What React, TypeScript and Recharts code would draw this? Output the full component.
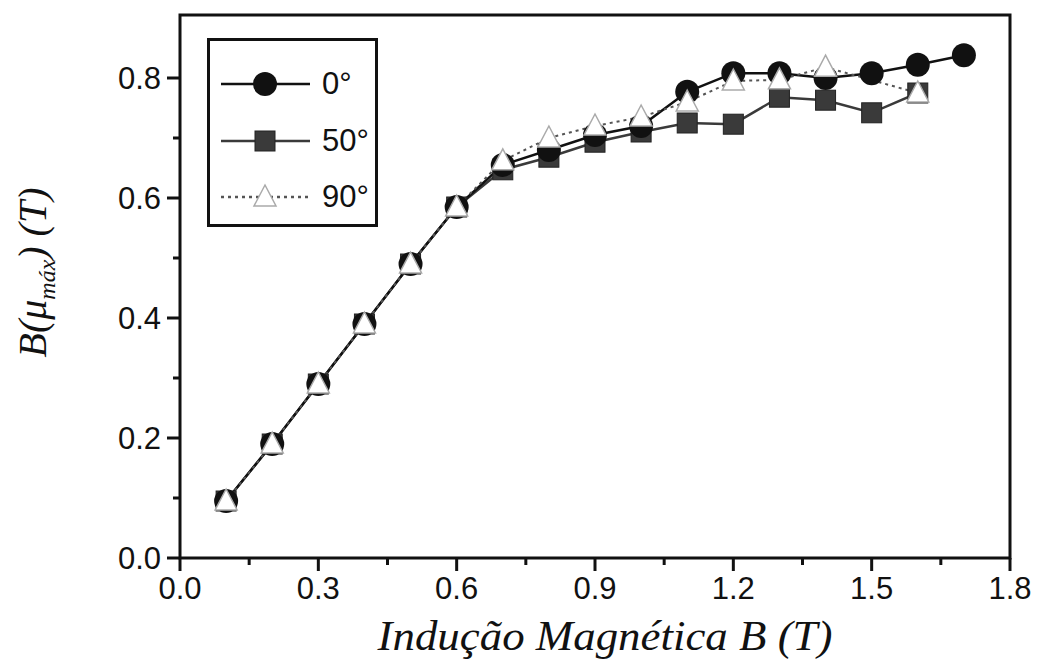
import { LineChart, Line, XAxis, YAxis, ReferenceArea, Legend } from 'recharts'

// ── data ────────────────────────────────────────────────────────────────────
const B_FIELD = [0.1, 0.2, 0.3, 0.4, 0.5, 0.6, 0.7, 0.8, 0.9, 1.0, 1.1, 1.2, 1.3, 1.4, 1.5, 1.6, 1.7]
const ANGLE_0 = [0.095, 0.19, 0.29, 0.39, 0.49, 0.585, 0.655, 0.68, 0.705, 0.72, 0.777, 0.808, 0.808, 0.8, 0.808, 0.822, 0.838]
const ANGLE_50 = [0.095, 0.19, 0.29, 0.39, 0.49, 0.585, 0.647, 0.668, 0.693, 0.71, 0.725, 0.723, 0.768, 0.763, 0.742, 0.775, null]
const ANGLE_90 = [0.095, 0.19, 0.29, 0.39, 0.49, 0.585, 0.662, 0.7, 0.72, 0.735, 0.76, 0.795, 0.797, 0.818, null, 0.775, null]

const X_TICKS = [0, 0.15, 0.3, 0.45, 0.6, 0.75, 0.9, 1.05, 1.2, 1.35, 1.5, 1.65, 1.8]
const X_LABELS = ['0.0', '0.3', '0.6', '0.9', '1.2', '1.5', '1.8']
const Y_TICKS = [0, 0.1, 0.2, 0.3, 0.4, 0.5, 0.6, 0.7, 0.8]
const Y_LABELS = ['0.0', '0.2', '0.4', '0.6', '0.8']

const SERIES_NAMES = ['0°', '50°', '90°']

const data = B_FIELD.map((b, i) => ({ b, a0: ANGLE_0[i], a50: ANGLE_50[i], a90: ANGLE_90[i] }))

const INK = '#111'
const SQ = '#3a3a3a'
const SANS = '"Liberation Sans", Arial, sans-serif'
const SERIF = '"Liberation Serif", "Times New Roman", serif'

// ── markers ─────────────────────────────────────────────────────────────────
function Circle({ cx, cy }: { cx: number; cy: number }) {
  return <circle cx={cx} cy={cy} r={12} fill={INK} />
}
function Square({ cx, cy }: { cx: number; cy: number }) {
  return <rect x={cx - 10} y={cy - 10} width={20} height={20} fill={SQ} stroke="#222" strokeWidth={1} />
}
function Triangle({ cx, cy }: { cx: number; cy: number }) {
  return <polygon points={`${cx},${cy - 12} ${cx + 11},${cy + 9} ${cx - 11},${cy + 9}`} fill="#fff" stroke="#aaa" strokeWidth={1.5} />
}

const dotOf = (Shape: typeof Circle) => (p: any) => {
  if (p.cx == null || p.cy == null || p.value == null) return <g key={p.index} />
  return <Shape key={p.index} cx={p.cx} cy={p.cy} />
}

// ── ticks ───────────────────────────────────────────────────────────────────
function XTick({ x, y, payload }: any) {
  const idx = X_TICKS.indexOf(payload.value)
  const major = idx % 2 === 0
  return (
    <g>
      <line x1={x} x2={x} y1={y} y2={y + (major ? 13 : 7)} stroke={INK} strokeWidth={3} />
      {major && (
        <text x={x} y={y + 41} textAnchor="middle" fontFamily={SANS} fontSize={31} fill={INK}>
          {X_LABELS[idx / 2]}
        </text>
      )}
    </g>
  )
}

function YTick({ x, y, payload }: any) {
  const idx = Y_TICKS.indexOf(payload.value)
  const major = idx % 2 === 0
  return (
    <g>
      <line x1={x - (major ? 13 : 7)} x2={x} y1={y} y2={y} stroke={INK} strokeWidth={3} />
      {major && (
        <text x={x - 19} y={y} dy="0.36em" textAnchor="end" fontFamily={SANS} fontSize={31} fill={INK}>
          {Y_LABELS[idx / 2]}
        </text>
      )}
    </g>
  )
}

// ── legend ──────────────────────────────────────────────────────────────────
const LEGEND_MARKS = [Circle, Square, Triangle]
const LEGEND_STROKES = [
  { stroke: INK, dash: undefined },
  { stroke: SQ, dash: undefined },
  { stroke: '#555', dash: '3 4' },
]

function LegendBox() {
  return (
    <div style={{ width: 171, height: 189, boxSizing: 'border-box', border: `3px solid ${INK}`, background: '#fff', paddingTop: 15 }}>
      {SERIES_NAMES.map((name, i) => {
        const Mark = LEGEND_MARKS[i]
        return (
          <div key={name} style={{ display: 'flex', alignItems: 'center', height: 56.5 }}>
            <svg width={104} height={30} style={{ marginLeft: 8 }}>
              <line x1={3} x2={92} y1={15} y2={15} stroke={LEGEND_STROKES[i].stroke} strokeWidth={2.5} strokeDasharray={LEGEND_STROKES[i].dash} />
              <Mark cx={47} cy={15} />
            </svg>
            <span style={{ fontFamily: SANS, fontSize: 31, color: INK, marginLeft: 0 }}>{name}</span>
          </div>
        )
      })}
    </div>
  )
}

// ── axis titles ─────────────────────────────────────────────────────────────
function XTitle({ viewBox }: any) {
  const cx = viewBox.x + viewBox.width / 2 + 10
  return (
    <text x={cx} y={viewBox.y + 92} textAnchor="middle" fontFamily={SERIF} fontStyle="italic" fontSize={42} fill={INK}
      textLength={455} lengthAdjust="spacingAndGlyphs">
      Indução Magnética B (T)
    </text>
  )
}

function YTitle({ viewBox }: any) {
  const cy = viewBox.y + viewBox.height / 2 - 14
  const cx = 46
  return (
    <text x={cx} y={cy} textAnchor="middle" fontFamily={SERIF} fontStyle="italic" fontSize={40} fill={INK}
      transform={`rotate(-90 ${cx} ${cy})`}>
      B(μ<tspan fontSize={24} dy={9}>máx</tspan><tspan dy={-9}>) (T)</tspan>
    </text>
  )
}

export default function App() {
  return (
    <div style={{ position: 'absolute', left: 0, top: 0, background: '#fff' }}>
      <LineChart width={1044} height={664} data={data} margin={{ top: 15, right: 34, bottom: 0, left: 0 }}>
        <XAxis dataKey="b" type="number" domain={[0, 1.8]} ticks={X_TICKS} interval={0} height={106}
          axisLine={false} tickLine={false} tickSize={0} tickMargin={0} tick={<XTick />} label={<XTitle />} />
        <YAxis type="number" domain={[0, 0.905]} ticks={Y_TICKS} interval={0} width={180}
          axisLine={false} tickLine={false} tickSize={0} tickMargin={0} tick={<YTick />} label={<YTitle />} />
        <ReferenceArea x1={0} x2={1.8} y1={0} y2={0.905} fill="none" stroke={INK} strokeWidth={3} ifOverflow="visible" />
        <Legend layout="vertical" align="center" verticalAlign="middle" content={<LegendBox />}
          wrapperStyle={{ left: 207, top: 38, width: 171, height: 189 }} />
        <Line dataKey="a50" name={SERIES_NAMES[1]} stroke={SQ} strokeWidth={2.5} connectNulls
          dot={dotOf(Square)} activeDot={false} isAnimationActive={false} />
        <Line dataKey="a0" name={SERIES_NAMES[0]} stroke={INK} strokeWidth={2.5} connectNulls
          dot={dotOf(Circle)} activeDot={false} isAnimationActive={false} />
        <Line dataKey="a90" name={SERIES_NAMES[2]} stroke="#555" strokeWidth={2} strokeDasharray="3 4" connectNulls
          dot={dotOf(Triangle)} activeDot={false} isAnimationActive={false} />
      </LineChart>
    </div>
  )
}
